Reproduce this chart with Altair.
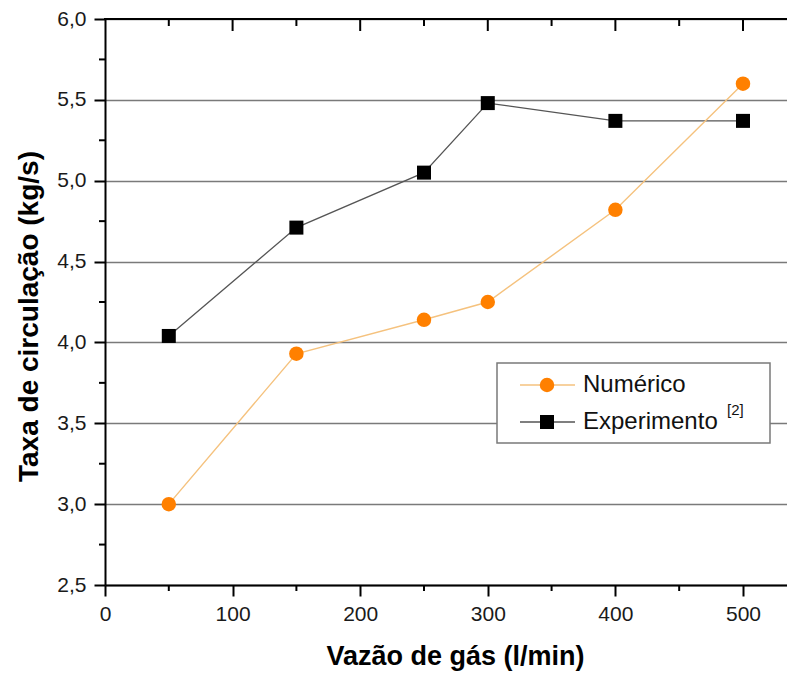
import altair as alt
import pandas as pd

# ---- data ----
vazao = [50, 150, 250, 300, 400, 500]
numerico = [3.00, 3.93, 4.14, 4.25, 4.82, 5.60]
experimento = [4.04, 4.71, 5.05, 5.48, 5.37, 5.37]

x_major = [0, 100, 200, 300, 400, 500]
x_minor = [50, 150, 250, 350, 450]
y_major = [2.5, 3.0, 3.5, 4.0, 4.5, 5.0, 5.5, 6.0]
y_minor = [2.75, 3.25, 3.75, 4.25, 4.75, 5.25, 5.75]

series_names = ["Numérico", "Experimento"]

W = 682
H = 566
FONT = "Liberation Sans"

df_num = pd.DataFrame({"x": vazao, "y": numerico})
df_exp = pd.DataFrame({"x": vazao, "y": experimento})
one = pd.DataFrame({"k": [0]})

xscale = alt.Scale(domain=[0, 534.5], nice=False, zero=False)
yscale = alt.Scale(domain=[2.5, 6.0], nice=False, zero=False)

xaxis = alt.Axis(
    values=x_major, title="Vazão de gás (l/min)", grid=False,
    tickSize=11, tickWidth=2, tickColor="black",
    domainColor="black", domainWidth=2,
    labelFont=FONT, labelFontSize=21, labelColor="#1a1a1a", labelPadding=7,
    titleFont=FONT, titleFontSize=27, titleFontWeight="bold", titleColor="black",
    titlePadding=19, titleX=350, labelFlush=False,
)
yaxis = alt.Axis(
    values=y_major, title="Taxa de circulação (kg/s)", grid=True,
    gridColor="#7a7a7a", gridWidth=1.5,
    labelExpr="replace(format(datum.value, '.1f'), '.', ',')",
    tickSize=11, tickWidth=2, tickColor="black",
    domainColor="black", domainWidth=2,
    labelFont=FONT, labelFontSize=21, labelColor="#1a1a1a", labelPadding=8,
    titleFont=FONT, titleFontSize=28, titleFontWeight="bold", titleColor="black",
    titlePadding=13, titleY=297, labelFlush=False,
)


def X(field):
    return alt.X(f"{field}:Q", scale=xscale, axis=xaxis)


def Y(field):
    return alt.Y(f"{field}:Q", scale=yscale, axis=yaxis)


line_exp = alt.Chart(df_exp).mark_line(color="#555555", strokeWidth=1.3).encode(x=X("x"), y=Y("y"))
line_num = alt.Chart(df_num).mark_line(color="#f5c27e", strokeWidth=1.4).encode(x=X("x"), y=Y("y"))
pts_exp = alt.Chart(df_exp).mark_point(
    shape="square", filled=True, color="black", size=196, opacity=1
).encode(x=X("x"), y=Y("y"))
pts_num = alt.Chart(df_num).mark_point(
    shape="circle", filled=True, color="#ff8000", size=210, opacity=1
).encode(x=X("x"), y=Y("y"))

# minor ticks and mirrored top axis
df_xminor = pd.DataFrame({"x": x_minor})
df_xmajor_top = pd.DataFrame({"x": x_major[1:]})
df_yminor = pd.DataFrame({"y": y_minor})

xminor_bottom = alt.Chart(df_xminor).mark_rule(color="black", strokeWidth=2).encode(
    x=X("x"), y=alt.value(H), y2=alt.value(H + 6)
)
xminor_top = alt.Chart(df_xminor).mark_rule(color="black", strokeWidth=2).encode(
    x=X("x"), y=alt.value(0), y2=alt.value(7)
)
xmajor_top = alt.Chart(df_xmajor_top).mark_rule(color="black", strokeWidth=2).encode(
    x=X("x"), y=alt.value(0), y2=alt.value(12)
)
yminor_left = alt.Chart(df_yminor).mark_rule(color="black", strokeWidth=2).encode(
    y=Y("y"), x=alt.value(-6), x2=alt.value(0)
)
top_line = alt.Chart(one).mark_rule(color="black", strokeWidth=2).encode(
    x=alt.value(-1), x2=alt.value(W), y=alt.value(0)
)

# legend box
LX0, LX1, LY0, LY1 = 392, 665, 344, 424
ly_num, ly_exp = 366, 403
legend_box = alt.Chart(one).mark_rect(fill="white", stroke="#7a7a7a", strokeWidth=1.5).encode(
    x=alt.value(LX0), x2=alt.value(LX1), y=alt.value(LY0), y2=alt.value(LY1)
)
leg_line_num = alt.Chart(one).mark_rule(color="#f5c27e", strokeWidth=1.4).encode(
    x=alt.value(415), x2=alt.value(470), y=alt.value(ly_num)
)
leg_line_exp = alt.Chart(one).mark_rule(color="#555555", strokeWidth=1.3).encode(
    x=alt.value(415), x2=alt.value(470), y=alt.value(ly_exp)
)
leg_pt_num = alt.Chart(one).mark_point(shape="circle", filled=True, color="#ff8000", size=210, opacity=1).encode(
    x=alt.value(442), y=alt.value(ly_num)
)
leg_pt_exp = alt.Chart(one).mark_point(shape="square", filled=True, color="black", size=196, opacity=1).encode(
    x=alt.value(442), y=alt.value(ly_exp)
)
leg_txt_num = alt.Chart(one).mark_text(
    text=series_names[0], font=FONT, fontSize=24, align="left", baseline="middle", color="#111"
).encode(x=alt.value(478), y=alt.value(ly_num))
leg_txt_exp = alt.Chart(one).mark_text(
    text=series_names[1], font=FONT, fontSize=24, align="left", baseline="middle", color="#111"
).encode(x=alt.value(478), y=alt.value(ly_exp))
leg_sup = alt.Chart(one).mark_text(
    text="[2]", font=FONT, fontSize=15, align="left", baseline="middle", color="#111"
).encode(x=alt.value(622), y=alt.value(ly_exp - 12))

chart = alt.layer(
    line_exp, line_num, pts_exp, pts_num,
    xminor_bottom, xminor_top, xmajor_top, yminor_left, top_line,
    legend_box, leg_line_num, leg_line_exp, leg_pt_num, leg_pt_exp,
    leg_txt_num, leg_txt_exp, leg_sup,
).properties(
    width=W, height=H,
    autosize=alt.AutoSizeParams(type="none"),
    padding={"left": 97, "top": 11, "right": 0, "bottom": 86},
).configure_view(stroke=None).configure(background="white")

chart.save("out.html", embed_options={"renderer": "svg", "actions": False})
